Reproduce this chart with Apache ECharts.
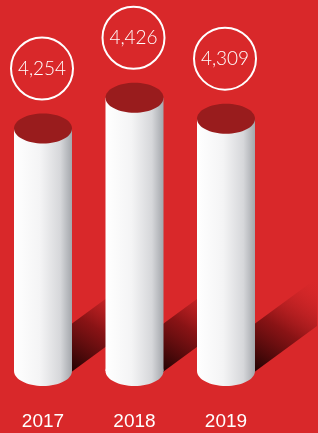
<!DOCTYPE html>
<html>
<head>
<meta charset="utf-8">
<script src="https://cdn.jsdelivr.net/npm/echarts@6/dist/echarts.min.js"></script>
<style>
  html, body { margin: 0; padding: 0; background: #d9282a; }
  #main { width: 318px; height: 433px; }
</style>
</head>
<body>
<div id="main"></div>
<script>
// data
var years = ['2017', '2018', '2019'];
var values = [4254, 4426, 4309];

var chart = echarts.init(document.getElementById('main'));

var RX = 29, RY = 15;      // cylinder ellipse radii
var CIRCLE_R = 31;         // value bubble radius
var SHADOW_LEN = 62;       // shadow run to upper right

function cylinder(params, api) {
  var top = api.coord([api.value(0), api.value(1)]);
  var base = api.coord([api.value(0), 2900]);
  var cx = top[0], ty = top[1], by = base[1];
  var xl = cx - RX, xr = cx + RX;

  var bodyColor = new echarts.graphic.LinearGradient(0, 0, 1, 0, [
    { offset: 0, color: '#ffffff' },
    { offset: 0.45, color: '#f4f4f5' },
    { offset: 0.8, color: '#d6d7da' },
    { offset: 1, color: '#a4a7ac' }
  ]);

  // shadow parallelogram (goes up-right, fades out)
  var k = 0.76;
  var sTop = by - 46, sBot = by + 2;
  var shadow = {
    type: 'polygon',
    shape: {
      points: [
        [xr - 2, sTop],
        [xr + SHADOW_LEN, sTop - SHADOW_LEN * k],
        [xr + SHADOW_LEN, sBot - SHADOW_LEN * k],
        [xr - 2, sBot]
      ]
    },
    style: {
      fill: new echarts.graphic.LinearGradient(xr, sBot, xr + SHADOW_LEN, sTop - SHADOW_LEN * k, [
        { offset: 0, color: 'rgba(20,0,0,0.95)' },
        { offset: 0.45, color: 'rgba(110,12,14,0.75)' },
        { offset: 1, color: 'rgba(217,40,42,0)' }
      ], true)
    }
  };

  return {
    type: 'group',
    children: [
      shadow,
      {
        type: 'ellipse',
        shape: { cx: cx, cy: by, rx: RX, ry: RY },
        style: { fill: bodyColor }
      },
      {
        type: 'rect',
        shape: { x: xl, y: ty, width: RX * 2, height: by - ty },
        style: { fill: bodyColor }
      },
      {
        type: 'ellipse',
        shape: { cx: cx, cy: ty, rx: RX, ry: RY },
        style: { fill: '#991c1d' }
      },
      {
        type: 'circle',
        shape: { cx: cx - 1, cy: ty - 60, r: CIRCLE_R },
        style: { fill: 'none', stroke: '#ffffff', lineWidth: 2 }
      },
      {
        type: 'text',
        x: cx - 1,
        y: ty - 60,
        style: {
          text: values[params.dataIndex].toLocaleString('en-US'),
          fill: '#ffffff',
          font: '300 19px Lato',
          align: 'center',
          verticalAlign: 'middle'
        }
      }
    ]
  };
}

var option = {
  backgroundColor: '#d9282a',
  animation: false,
  grid: { left: 43, right: 92, top: 84.5, bottom: 62 },
  xAxis: {
    type: 'category',
    data: years,
    boundaryGap: false,
    axisLine: { show: false },
    axisTick: { show: false },
    axisLabel: {
      color: '#ffffff',
      fontSize: 19,
      fontFamily: 'Liberation Sans',
      margin: 41
    }
  },
  yAxis: {
    type: 'value',
    min: 2900,
    max: 4500,
    show: false
  },
  series: [
    {
      type: 'custom',
      clip: false,
      renderItem: cylinder,
      data: values.map(function (v, i) { return [i, v]; })
    }
  ]
};

chart.setOption(option);
</script>
</body>
</html>
